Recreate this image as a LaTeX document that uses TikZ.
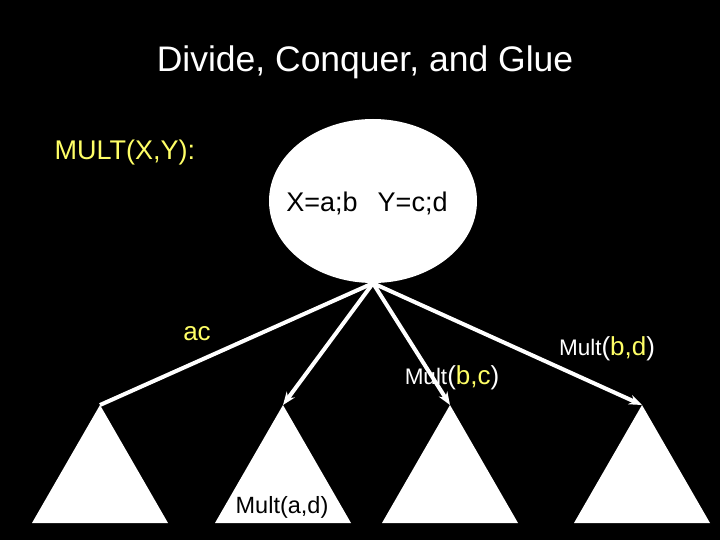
\documentclass[tikz,border=0pt]{standalone}
\usepackage{fontspec}
\setmainfont{Liberation Sans}
\usetikzlibrary{shapes, arrows.meta, positioning}
\definecolor{background}{HTML}{000000}
\definecolor{hilite}{HTML}{FFFF66}

\tikzset{
   link/.style={white, line width=4pt},
   tip/.style={-{Stealth[length=13pt, width=10pt]}},
}

\begin{document}
\begin{tikzpicture}[x=1pt, y=-1pt]
       \fill[background] (0,0) rectangle (720,540);

       \node[white, font=\fontsize{35.5}{42}\selectfont] (title) at (365,62) {Divide, Conquer, and Glue};
       \node[hilite, font=\fontsize{27}{32}\selectfont, anchor=west] (mult) at (51,153) {MULT(X,Y):};

       \node[fill=white, ellipse, inner sep=0pt, minimum width=208, minimum height=164] (root) at (373,201) {};
       \node[black, font=\fontsize{27}{32}\selectfont] (vars) at ([xshift=-6pt, yshift=-2pt]root.center)
            {X=a;b\hspace{20pt}Y=c;d};

       % subproblems
       \foreach \n/\x in {1/100, 2/283, 3/450, 4/642} {
          \coordinate (t\n) at (\x,405);
          \fill[white] (t\n) -- ++(-68,118) -- ++(136,0) -- cycle;
       }

       \node[hilite, font=\fontsize{26}{31}\selectfont] (ac) at (197,334) {ac};
       \node[white, font=\fontsize{22.5}{26}\selectfont] (bc) at (452,378)
            {Mult{\fontsize{26}{31}\selectfont(\textcolor{hilite}{b,c})}};
       \node[white, font=\fontsize{22.5}{26}\selectfont] (bd) at (607,349)
            {Mult{\fontsize{26}{31}\selectfont(\textcolor{hilite}{b,d})}};
       \node[black, font=\fontsize{23.5}{28}\selectfont] (ad) at (282,507) {Mult(a,d)};

       \draw[link] (root.south) -- (t1);
       \draw[link, tip] (root.south) -- (t2);
       \draw[link, tip] (root.south) -- (t3);
       \draw[link, tip] (root.south) -- (t4);
\end{tikzpicture}
\end{document}
